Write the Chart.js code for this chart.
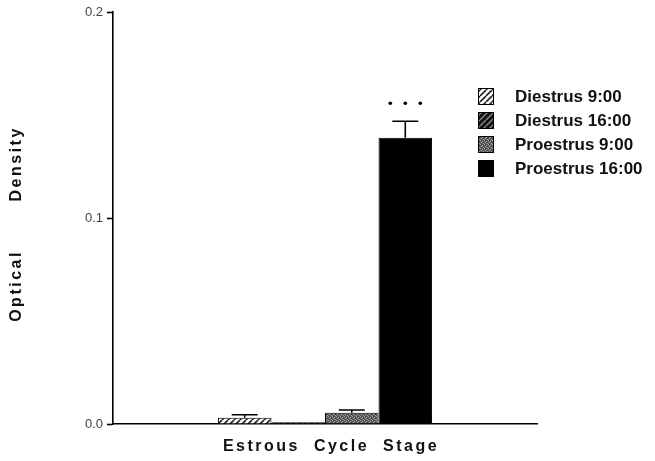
<!DOCTYPE html>
<html><head><meta charset="utf-8">
<script src="https://cdn.jsdelivr.net/npm/chart.js@4/dist/chart.umd.min.js"></script>
<style>html,body{margin:0;padding:0;background:#fff}#wrap{width:655px;height:461px}</style>
</head><body><div id="wrap"><canvas id="c" width="655" height="461"></canvas></div>
<script>
const categories = [''];
const seriesLabels = ['Diestrus 9:00', 'Diestrus 16:00', 'Proestrus 9:00', 'Proestrus 16:00'];
const seriesValues = [0.003, 0.0008, 0.0055, 0.139];
const seriesErrors = [0.0015, 0, 0.0013, 0.008];
const significance = ['', '', '', '***'];
const yTicks = [0.0, 0.1, 0.2];
const xTitle = 'Estrous  Cycle  Stage';
const yTitle = 'Optical       Density';

function makePattern(kind) {
  const c = document.createElement('canvas');
  const ctx = c.getContext('2d');
  if (kind === 'light' || kind === 'dark') {
    const s = 6; c.width = s; c.height = s;
    ctx.fillStyle = kind === 'light' ? '#ffffff' : '#111111';
    ctx.fillRect(0, 0, s, s);
    ctx.strokeStyle = kind === 'light' ? '#222222' : '#8a8a8a';
    ctx.lineWidth = kind === 'light' ? 1.6 : 1.4;
    for (let k = -1; k <= 1; k++) {
      ctx.beginPath();
      ctx.moveTo(k * s, s); ctx.lineTo(k * s + s, 0); ctx.stroke();
    }
  } else if (kind === 'stipple') {
    c.width = 4; c.height = 4;
    ctx.fillStyle = '#5a5a5a'; ctx.fillRect(0, 0, 4, 4);
    ctx.fillStyle = '#a8a8a8';
    ctx.fillRect(0, 0, 1, 1); ctx.fillRect(2, 1, 1, 1); ctx.fillRect(1, 2, 1, 1); ctx.fillRect(3, 3, 1, 1);
    ctx.fillStyle = '#333';
    ctx.fillRect(1, 0, 1, 1); ctx.fillRect(3, 2, 1, 1);
  } else {
    c.width = 2; c.height = 2; ctx.fillStyle = '#000'; ctx.fillRect(0, 0, 2, 2);
  }
  return document.getElementById('c').getContext('2d').createPattern(c, 'repeat');
}
const fills = [makePattern('light'), makePattern('dark'), makePattern('stipple'), '#000000'];

const extras = {
  id: 'extras',
  afterDatasetsDraw(chart) {
    const ctx = chart.ctx, y = chart.scales.y;
    ctx.save();
    ctx.strokeStyle = '#000'; ctx.fillStyle = '#000'; ctx.lineWidth = 1.6;
    chart.data.datasets.forEach((ds, i) => {
      const bar = chart.getDatasetMeta(i).data[0];
      const err = seriesErrors[i];
      const top = y.getPixelForValue(seriesValues[i] + err);
      if (err > 0) {
        ctx.beginPath();
        ctx.moveTo(bar.x, bar.y); ctx.lineTo(bar.x, top);
        ctx.moveTo(bar.x - 13, top); ctx.lineTo(bar.x + 13, top);
        ctx.stroke();
      }
      const n = significance[i].length;
      for (let k = 0; k < n; k++) {
        const dx = (k - (n - 1) / 2) * 15;
        ctx.beginPath(); ctx.arc(bar.x + dx, top - 18, 1.8, 0, Math.PI * 2); ctx.fill();
      }
    });
    ctx.restore();
  },
  afterDraw(chart) {
    const ctx = chart.ctx, a = chart.chartArea;
    ctx.save();
    ctx.fillStyle = '#111';
    ctx.font = 'bold 16px "Liberation Sans", Arial, sans-serif';
    ctx.letterSpacing = '2.5px';
    ctx.textAlign = 'center'; ctx.textBaseline = 'middle';
    ctx.fillText(xTitle, 331, 447);
    ctx.save();
    ctx.translate(17, 224); ctx.rotate(-Math.PI / 2);
    ctx.fillText(yTitle, 0, 0);
    ctx.restore();
    ctx.letterSpacing = '0px';
    // legend
    ctx.font = 'bold 17px "Liberation Sans", Arial, sans-serif';
    ctx.textAlign = 'left';
    chart.data.datasets.forEach((ds, i) => {
      const by = 88 + i * 24;
      ctx.fillStyle = ds.backgroundColor;
      ctx.fillRect(478, by, 16, 17);
      ctx.strokeStyle = '#000'; ctx.lineWidth = 1;
      ctx.strokeRect(478.5, by + 0.5, 15, 16);
      ctx.fillStyle = '#111';
      ctx.fillText(ds.label, 515, by + 9);
    });
    ctx.restore();
  }
};

new Chart(document.getElementById('c'), {
  type: 'bar',
  data: {
    labels: categories,
    datasets: seriesLabels.map((l, i) => ({
      label: l,
      data: [seriesValues[i]],
      backgroundColor: fills[i],
      borderColor: '#000',
      borderWidth: 1,
      categoryPercentage: 0.505,
      barPercentage: 1.0
    }))
  },
  options: {
    responsive: false,
    animation: false,
    devicePixelRatio: 1,
    layout: { padding: { top: 12, right: 118, left: 0, bottom: 0 } },
    plugins: { legend: { display: false }, tooltip: { enabled: false } },
    scales: {
      x: {
        offset: true,
        grid: { display: false },
        border: { display: true, color: '#000', width: 1.6 },
        ticks: { display: false },
        afterFit: s => { s.height = 37; }
      },
      y: {
        min: 0, max: 0.2,
        afterBuildTicks: s => { s.ticks = yTicks.map(v => ({ value: v })); },
        ticks: {
          color: '#444',
          font: { size: 13, family: '"Liberation Sans", Arial, sans-serif' },
          padding: 4,
          callback: v => Number(v).toFixed(1)
        },
        grid: { drawOnChartArea: false, tickLength: 6, color: '#000', tickWidth: 1.6 },
        border: { display: true, color: '#000', width: 1.6 },
        afterFit: s => { s.width = 113; }
      }
    }
  },
  plugins: [extras]
});
</script>
</body></html>
